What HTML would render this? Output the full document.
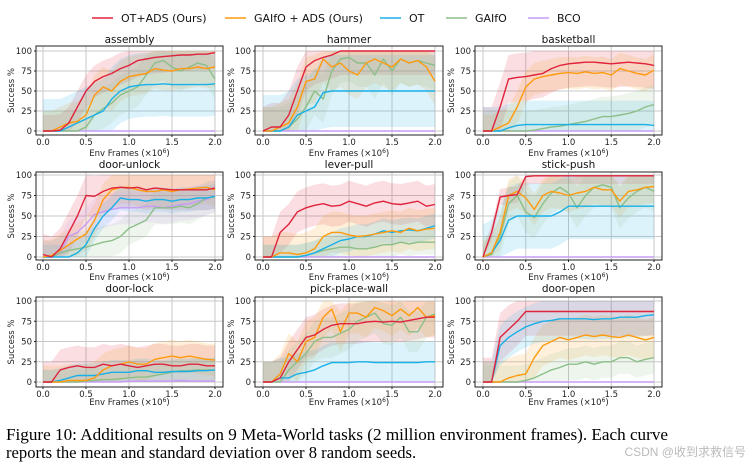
<!DOCTYPE html>
<html><head><meta charset="utf-8">
<style>
body{margin:0;background:#fff;width:752px;height:470px;overflow:hidden;}
svg{display:block;}
text{font-family:"DejaVu Sans","Liberation Sans",sans-serif;}
text.cap{font-family:"Times New Roman","Liberation Serif",serif;font-size:16.6px;fill:#000;}
</style></head><body>
<svg id="fig" width="752" height="470" viewBox="0 0 752 470" xmlns="http://www.w3.org/2000/svg">
<g id="legend"></g>
<g id="plots"></g>
<text class="cap" font-family="Times New Roman, Liberation Serif, serif" x="6" y="440" textLength="662" lengthAdjust="spacingAndGlyphs">Figure 10: Additional results on 9 Meta-World tasks (2 million environment frames). Each curve</text>
<text class="cap" font-family="Times New Roman, Liberation Serif, serif" x="6" y="458">reports the mean and standard deviation over 8 random seeds.</text>
<text x="746" y="456" text-anchor="end" style="font-family:'Liberation Sans','Noto Sans CJK SC',sans-serif;font-size:12px;fill:#bbb">CSDN @收到求救信号</text>
</svg>
<script>
const seriesNames = ["OT+ADS (Ours)","GAIfO + ADS (Ours)","OT","GAIfO","BCO"];
const seriesColors = ["#e0233c","#ff9a0e","#18b0e8","#8cbf88","#c79cf6"];
const xTicks = [0,0.5,1.0,1.5,2.0];
const xTickLabels = ["0.0","0.5","1.0","1.5","2.0"];
const yTicks = [0,25,50,75,100];
const xValues = [0,0.1,0.2,0.3,0.4,0.5,0.6,0.7,0.8,0.9,1.0,1.1,1.2,1.3,1.4,1.5,1.6,1.7,1.8,1.9,2.0];
const taskNames = ["assembly","hammer","basketball","door-unlock","lever-pull","stick-push","door-lock","pick-place-wall","door-open"];

const assembly = [
[0,0,1,10,30,50,62,68,72,78,82,88,90,92,93,94,95,95,96,96,98],
[0,0,5,10,12,20,45,55,50,62,68,70,72,78,76,75,78,78,80,78,80],
[0,0,0,5,10,15,20,25,40,50,55,57,58,58,59,58,58,58,58,58,59],
[0,0,0,0,0,5,20,28,35,45,50,55,70,85,88,80,75,80,85,82,65],
[0,0,0,0,0,0,0,0,0,0,0,0,0,0,0,0,0,0,0,0,0]];
const hammer = [
[0,5,5,20,50,80,88,92,95,100,100,100,100,100,100,100,100,100,100,100,100],
[0,0,5,10,30,62,65,90,80,85,75,70,85,90,85,80,90,85,88,80,62],
[0,0,0,5,20,25,30,48,50,50,50,50,50,50,50,50,50,50,50,50,50],
[0,0,0,5,15,30,50,40,75,90,92,85,85,70,90,75,90,85,88,85,82],
[0,0,0,0,0,0,0,0,0,0,0,0,0,0,0,0,0,0,0,0,0]];
const basketball = [
[0,0,30,65,67,68,70,72,78,82,84,85,86,86,85,84,85,86,85,84,82],
[0,0,5,10,30,55,65,68,70,72,73,72,74,72,73,70,78,75,72,70,76],
[0,0,0,4,7,8,8,8,8,8,8,8,8,8,8,8,8,8,8,8,7],
[0,0,0,0,0,0,1,3,5,6,8,10,12,15,18,18,20,22,25,30,33],
[0,0,0,0,0,0,0,0,0,0,0,0,0,0,0,0,0,0,0,0,0]];
const doorUnlock = [
[3,0,10,30,50,75,74,80,84,85,84,85,82,84,83,82,82,82,82,82,84],
[0,2,8,15,22,28,45,70,82,85,85,82,80,80,82,80,82,83,84,85,82],
[0,0,0,0,5,15,35,50,60,72,70,70,68,70,70,68,70,70,72,72,74],
[0,0,5,8,10,12,15,18,20,25,35,40,45,60,60,60,62,60,65,72,73],
[0,0,5,25,30,40,52,55,58,60,60,60,62,62,60,62,64,65,68,70,75]];
const leverPull = [
[0,0,30,40,55,60,63,65,62,63,68,65,62,66,68,65,64,66,68,62,64],
[0,0,5,5,3,5,10,25,30,30,27,25,26,28,30,32,30,35,32,34,35],
[0,0,0,0,0,2,5,10,15,20,22,25,25,28,32,30,32,33,32,35,38],
[0,0,0,0,0,2,5,8,10,12,12,10,10,12,15,15,18,16,18,18,18],
[0,0,0,0,0,0,0,0,0,0,0,0,0,0,0,0,0,0,0,0,0]];
const stickPush = [
[0,30,73,75,76,98,99,99,99,99,99,99,99,99,99,99,99,99,99,99,99],
[0,5,30,75,80,72,58,75,80,78,75,78,80,85,82,82,68,80,82,85,86],
[0,5,20,45,50,50,50,50,50,55,62,62,62,62,62,62,62,62,62,62,62],
[0,3,25,65,75,55,48,65,78,85,78,60,75,85,88,85,60,72,80,85,80],
[0,0,0,0,0,0,0,0,0,0,0,0,0,0,0,0,0,0,0,0,0]];
const doorLock = [
[0,0,15,18,20,18,18,22,20,22,20,18,20,22,22,20,20,22,22,20,20],
[0,0,0,2,2,2,5,15,20,22,25,22,22,28,30,32,30,32,30,28,27],
[0,0,2,5,8,8,8,10,12,12,12,14,14,12,12,13,13,13,14,14,15],
[0,0,0,0,0,1,2,3,3,4,5,6,6,8,10,12,14,14,15,15,15],
[0,0,0,0,0,0,0,0,0,0,1,1,1,1,1,1,2,1,1,1,1]];
const pickPlaceWall = [
[0,0,5,25,40,55,58,65,70,72,72,72,74,75,74,75,74,76,78,80,80],
[0,0,10,35,25,50,55,80,90,62,85,85,80,92,88,82,90,82,92,80,82],
[0,0,5,5,10,12,15,20,24,24,24,25,25,24,24,24,24,24,24,25,25],
[0,0,0,15,25,35,50,55,55,60,65,75,80,85,72,70,80,62,62,80,84],
[0,0,0,0,0,0,0,0,0,0,0,0,0,0,0,0,0,0,0,0,0]];
const doorOpen = [
[0,0,55,65,75,87,87,87,87,87,87,87,87,87,87,87,87,87,87,87,87],
[0,0,0,5,8,10,30,45,50,55,52,55,58,56,58,56,55,58,55,52,55],
[0,0,45,55,62,68,72,75,76,78,78,78,78,77,78,78,80,80,80,82,83],
[0,0,0,0,0,2,5,10,15,18,22,22,25,22,25,25,30,30,25,28,30],
[0,0,0,0,0,0,0,0,0,0,0,0,0,0,0,0,0,0,0,0,0]];
const taskData = [assembly,hammer,basketball,doorUnlock,leverPull,stickPush,doorLock,pickPlaceWall,doorOpen];
const taskStd = [
[20,25,40,25,0],[30,30,45,30,1],[30,20,30,25,0],
[25,20,15,20,20],[25,25,15,15,0],[10,20,40,25,0],
[25,20,15,15,2],[25,25,25,25,0],[30,25,25,20,0]];

const NS="http://www.w3.org/2000/svg";
function mk(tag,attrs,parent){const e=document.createElementNS(NS,tag);for(const k in attrs)e.setAttribute(k,attrs[k]);parent.appendChild(e);return e;}

const colX0=[43,263,483], colX1=[215,435,654], boxL=[36,255,475], boxR=[223,443,662];
const rowY100=[51,175,301], rowY0=[131,257,382], boxT=[46,172,297], boxB=[135,260,387];
const titleY=[43,168,292], xlabY=[156,280,405], ylabX=[14,234,454];

const plots=document.getElementById('plots');
for(let t=0;t<9;t++){
  const c=t%3, r=Math.floor(t/3);
  const xs=v=>colX0[c]+(v/2)*(colX1[c]-colX0[c]);
  const ys=v=>rowY0[r]-(v/100)*(rowY0[r]-rowY100[r]);
  const g=mk('g',{},plots);
  
  
  mk('rect',{x:boxL[c],y:boxT[r],width:boxR[c]-boxL[c],height:boxB[r]-boxT[r],fill:'#fff'},g);
  xTicks.forEach(v=>{const l=mk('line',{x1:xs(v),x2:xs(v),y1:boxT[r],y2:boxB[r],stroke:'#c8c8c8','stroke-width':1},g);
    });
  yTicks.forEach(v=>{const l=mk('line',{x1:boxL[c],x2:boxR[c],y1:ys(v),y2:ys(v),stroke:'#c8c8c8','stroke-width':1},g);
    });
  const data=taskData[t], std=taskStd[t];
  for(let s=0;s<5;s++){
    const up=data[s].map((v,i)=>xs(xValues[i]).toFixed(1)+','+ys(Math.min(100,v+std[s])).toFixed(1));
    const lo=data[s].map((v,i)=>xs(xValues[i]).toFixed(1)+','+ys(Math.max(0,v-std[s])).toFixed(1)).reverse();
    const b=mk('polygon',{points:up.concat(lo).join(' '),fill:seriesColors[s],'fill-opacity':0.15},g);
    
    
  }
  [4,3,2,1,0].forEach(s=>{
    const pts=data[s].map((v,i)=>xs(xValues[i]).toFixed(1)+','+ys(v).toFixed(1)).join(' ');
    const p=mk('polyline',{points:pts,fill:'none',stroke:seriesColors[s],'stroke-width':1.4,'stroke-linejoin':'round'},g);
    
    
  });
  mk('rect',{x:boxL[c],y:boxT[r],width:boxR[c]-boxL[c],height:boxB[r]-boxT[r],fill:'none',stroke:'#222','stroke-width':1},g);
  xTicks.forEach((v,i)=>{const tx=mk('text',{x:xs(v),y:boxB[r]+10,'text-anchor':'middle','font-size':8.5,fill:'#222'},g);tx.textContent=xTickLabels[i];
    
    mk('line',{x1:xs(v),x2:xs(v),y1:boxB[r],y2:boxB[r]+2,stroke:'#222'},g);});
  yTicks.forEach(v=>{const tx=mk('text',{x:boxL[c]-4,y:ys(v)+3,'text-anchor':'end','font-size':8.5,fill:'#222'},g);tx.textContent=String(v);
    
    mk('line',{x1:boxL[c]-2,x2:boxL[c],y1:ys(v),y2:ys(v),stroke:'#222'},g);});
  const tt=mk('text',{x:(boxL[c]+boxR[c])/2,y:titleY[r],'text-anchor':'middle','font-size':10.5,fill:'#111'},g);tt.textContent=taskNames[t];
  
  const xl=mk('text',{x:(boxL[c]+boxR[c])/2,y:xlabY[r],'text-anchor':'middle','font-size':8.5,fill:'#222'},g);
  xl.innerHTML='Env Frames (×10<tspan dy="-3" font-size="6">6</tspan><tspan dy="3">)</tspan>';
  
  const yc=(boxT[r]+boxB[r])/2;
  const yl=mk('text',{x:ylabX[c],y:yc,'text-anchor':'middle','font-size':8.5,fill:'#222',transform:`rotate(-90 ${ylabX[c]} ${yc})`},g);yl.textContent='Success %';
  
}
const legend=document.getElementById('legend');
const legLineX=[92,225,380,446,528];
legLineX.forEach((x,s)=>{
  const e=mk('g',{},legend);
  
  
  mk('line',{x1:x,x2:x+21,y1:18,y2:18,stroke:seriesColors[s],'stroke-width':1.6},e);
  const tx=mk('text',{x:x+29,y:22,'font-size':11,fill:'#111'},e);tx.textContent=seriesNames[s];
});
</script>
</body></html>
